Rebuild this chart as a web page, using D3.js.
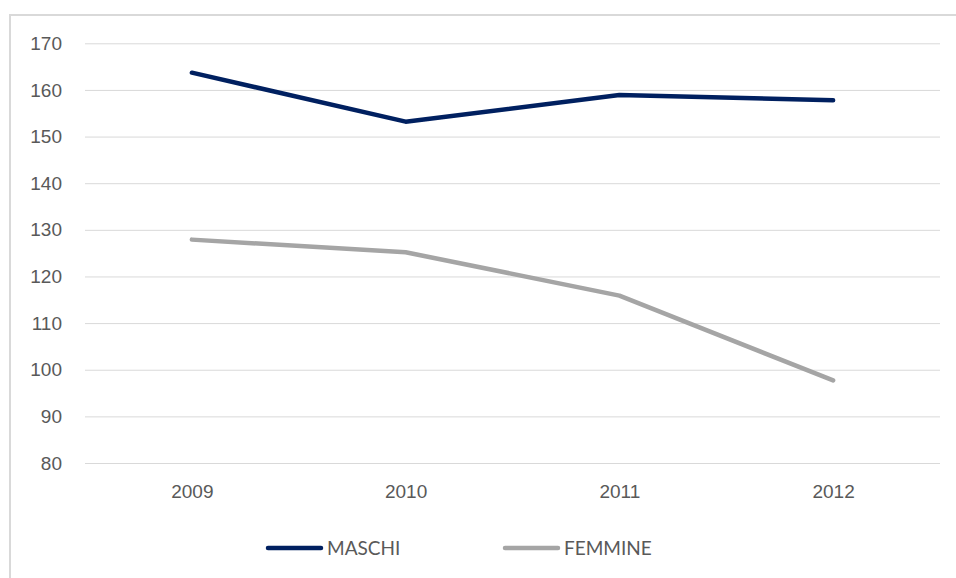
<!DOCTYPE html>
<html>
<head>
<meta charset="utf-8">
<script src="https://cdn.jsdelivr.net/npm/d3@7"></script>
<style>
  html, body { margin: 0; padding: 0; background: #fff; }
  svg { display: block; }
</style>
</head>
<body>
<div id="chart"></div>
<script>
// categories and series values
const years = ['2009', '2010', '2011', '2012'];
const maschi = [163.7, 153.2, 158.9, 157.8];
const femmine = [127.9, 125.2, 115.9, 97.7];
const yTicks = [80, 90, 100, 110, 120, 130, 140, 150, 160, 170];
const seriesNames = ['MASCHI', 'FEMMINE'];
const seriesColors = ['#002060', '#a5a5a5'];

const width = 956;
const height = 578;
const plot = {left: 85, right: 940, top: 43.3, bottom: 463};

const svg = d3.select('#chart').append('svg')
  .attr('width', width)
  .attr('height', height)
  .attr('font-family', 'Lato, "Open Sans", sans-serif');

// outer chart frame (right/bottom sides run off the picture)
svg.append('rect')
  .attr('x', 10)
  .attr('y', 15)
  .attr('width', width + 20)
  .attr('height', height + 20)
  .attr('fill', 'none')
  .attr('stroke', '#d9d9d9')
  .attr('stroke-width', 2);

const x = d3.scalePoint()
  .domain(years)
  .range([plot.left, plot.right])
  .padding(0.5);

const y = d3.scaleLinear()
  .domain([80, 170])
  .range([plot.bottom, plot.top]);

// gridlines + y labels
const yAxis = svg.append('g')
  .attr('transform', `translate(${plot.left},0)`)
  .call(d3.axisLeft(y)
    .tickValues(yTicks)
    .tickSize(-(plot.right - plot.left))
    .tickPadding(23));
yAxis.select('.domain').remove();
yAxis.selectAll('.tick line').attr('stroke', '#d9d9d9').attr('stroke-width', 1);
yAxis.selectAll('.tick text')
  .attr('fill', '#595959')
  .attr('font-size', 19);

// x labels
const xAxis = svg.append('g')
  .attr('transform', `translate(0,${plot.bottom})`)
  .call(d3.axisBottom(x).tickSize(0).tickPadding(22));
xAxis.select('.domain').remove();
xAxis.selectAll('.tick text')
  .attr('fill', '#595959')
  .attr('font-size', 19);

const line = d3.line()
  .x((d, i) => x(years[i]))
  .y(d => y(d));

[maschi, femmine].forEach((vals, k) => {
  svg.append('path')
    .datum(vals)
    .attr('d', line)
    .attr('fill', 'none')
    .attr('stroke', seriesColors[k])
    .attr('stroke-width', 4.5)
    .attr('stroke-linecap', 'round')
    .attr('stroke-linejoin', 'round');
});

// legend
const legendX = [268, 505];
const legend = svg.append('g');
seriesNames.forEach((name, k) => {
  const g = legend.append('g').attr('transform', `translate(${legendX[k]},548)`);
  g.append('line')
    .attr('x1', 0).attr('x2', 53)
    .attr('stroke', seriesColors[k])
    .attr('stroke-width', 4.5)
    .attr('stroke-linecap', 'round');
  g.append('text')
    .attr('x', 59)
    .attr('dy', '0.36em')
    .attr('fill', '#595959')
    .attr('font-size', 19)
    .text(name);
});
</script>
</body>
</html>
